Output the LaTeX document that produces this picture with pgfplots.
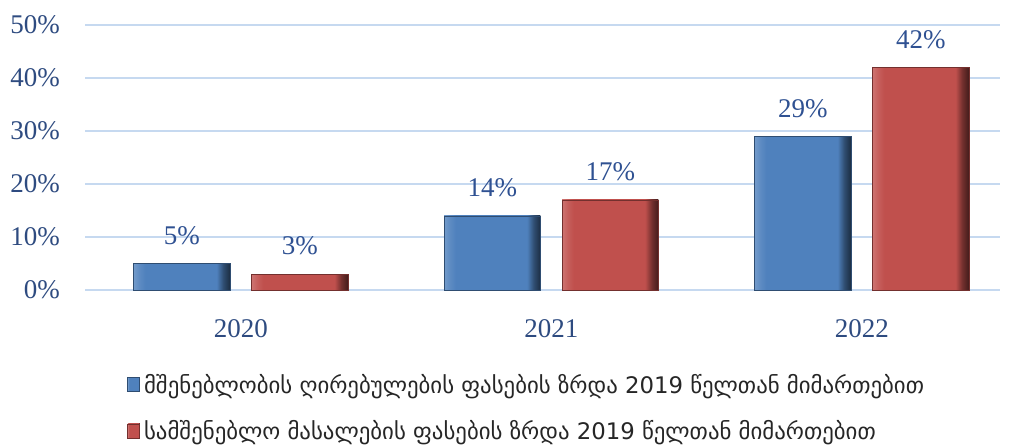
\documentclass[border=0pt]{standalone}
\usepackage{fontspec}
\setmainfont{Liberation Serif}
\newfontfamily\geo{DejaVu Sans}
\usepackage{pgfplots}
\pgfplotsset{compat=1.18}
\definecolor{barblue}{HTML}{4F81BD}
\definecolor{barred}{HTML}{C0504D}
\definecolor{gridc}{HTML}{C6D9F0}
\definecolor{tickc}{HTML}{2E4B80}
\definecolor{labc}{HTML}{2F5192}
\pgfdeclarehorizontalshading{blueshade}{100bp}{
  color(0bp)=(barblue!80!white); color(25bp)=(barblue!80!white); color(28bp)=(barblue!92!white); color(31bp)=(barblue);
  color(68bp)=(barblue); color(71.5bp)=(barblue!60!black); color(75bp)=(barblue!35!black); color(100bp)=(barblue!35!black)}
\pgfdeclarehorizontalshading{redshade}{100bp}{
  color(0bp)=(barred!80!white); color(25bp)=(barred!80!white); color(28bp)=(barred!92!white); color(31bp)=(barred);
  color(68bp)=(barred); color(71.5bp)=(barred!60!black); color(75bp)=(barred!35!black); color(100bp)=(barred!35!black)}
\pgfplotsset{
  bluebar/.style={draw=barblue!60!black, line width=0.3pt, shade, shading=blueshade, bar shift=-0.19},
  redbar/.style={draw=barred!60!black, line width=0.3pt, shade, shading=redshade, bar shift=0.19},
}
\begin{document}
\begin{tikzpicture}
\useasboundingbox (-42.5pt,-77.5pt) rectangle (462.5pt,145pt);
\begin{axis}[
  at={(0,0)}, anchor=south west,
  scale only axis, width=457.5pt, height=132.5pt,
  ybar, bar width=0.31,
  xmin=-0.502, xmax=2.445, ymin=0, ymax=50,
  xtick={0,1,2}, xticklabels={2020,2021,2022},
  ytick={0,10,20,30,40,50}, yticklabels={0\%,10\%,20\%,30\%,40\%,50\%},
  ymajorgrids, major grid style={gridc, line width=0.8pt},
  axis line style={draw=none}, tick style={draw=none},
  ticklabel style={font=\fontsize{13.5}{16}\selectfont, text=tickc},
  xticklabel style={yshift=-7pt},
  yticklabel style={xshift=-9pt},
  clip=false,
  point meta=y,
  nodes near coords={\pgfmathprintnumber{\pgfplotspointmeta}\%},
  nodes near coords style={font=\fontsize{13.5}{16}\selectfont, text=labc, anchor=center, yshift=14pt},
  /pgf/number format/assume math mode=true,
  legend style={at={(0.046,-0.303)}, anchor=north west, draw=none, fill=none,
    font=\geo\fontsize{11.4}{13}\selectfont, text=black!85, row sep=8pt,
    legend cell align=left, inner sep=0pt},
  legend image code/.code={\path[#1] (0pt,-3pt) rectangle (6pt,4pt);},
]
% construction cost price growth vs 2019 (blue)
\addplot[bluebar] coordinates {(0,5)};
% building materials price growth vs 2019 (red)
\addplot[redbar] coordinates {(0,3)};
\addplot[bluebar, forget plot] coordinates {(1,14)};
\addplot[bluebar, forget plot] coordinates {(2,29)};
\addplot[redbar, forget plot] coordinates {(1,17)};
\addplot[redbar, forget plot] coordinates {(2,42)};
\legend{მშენებლობის ღირებულების ფასების ზრდა 2019 წელთან მიმართებით, სამშენებლო მასალების ფასების ზრდა 2019 წელთან მიმართებით}
\end{axis}
\end{tikzpicture}
\end{document}
